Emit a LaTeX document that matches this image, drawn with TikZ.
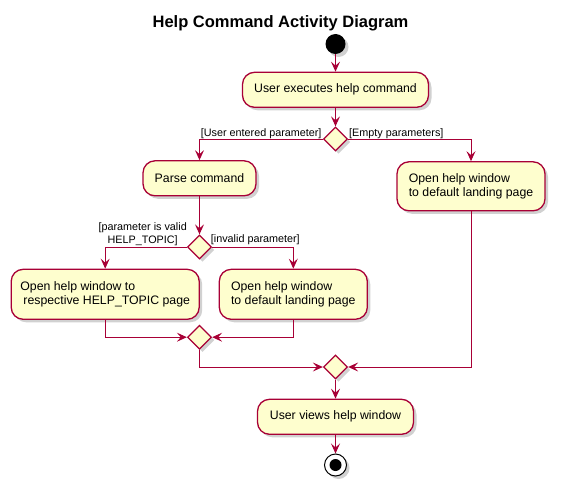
\documentclass[tikz,border=0pt]{standalone}
\usepackage{fontspec}
\setmainfont{Liberation Sans}
\usetikzlibrary{arrows.meta,shapes.geometric,shadows}
\definecolor{pborder}{HTML}{A80036}
\definecolor{pfill}{HTML}{FEFECE}
\begin{document}
\begin{tikzpicture}[x=1pt,y=-1pt,
  shadowed/.style={drop shadow={shadow xshift=3pt,shadow yshift=-3pt,opacity=0.3,fill=black!60}},
  act/.style={draw=pborder,fill=pfill,line width=1.3pt,rounded corners=12pt,inner sep=0pt,font=\fontsize{12.3}{14.7}\selectfont,align=left,shadowed},
  dec/.style={diamond,draw=pborder,fill=pfill,line width=1.3pt,minimum width=24pt,minimum height=24pt,inner sep=0pt,shadowed},
  flow/.style={draw=pborder,line width=1pt,-{Stealth[length=10pt,width=9pt,inset=4pt]}},
  lbl/.style={font=\fontsize{10.8}{13.3}\selectfont,inner sep=0pt},
]
\useasboundingbox (0,0) rectangle (561,492);
\node[font=\bfseries\fontsize{16.5}{20}\selectfont] (title) at (280.5,23.3) {Help Command Activity Diagram};
\node[circle,fill=black,minimum size=20pt,inner sep=0pt,shadowed] (start) at (335.5,44) {};
\node[act,minimum width=186pt,minimum height=35pt] (a1) at (335.5,89.8) {User executes help command};
\node[dec] (d1) at (335.5,139) {};
\node[act,minimum width=113pt,minimum height=35pt] (parse) at (199.5,178.3) {Parse command};
\node[act,minimum width=148pt,minimum height=49pt] (right) at (471,186.3) {Open help window\\to default landing page};
\node[dec] (d2) at (199.5,247) {};
\node[act,minimum width=188pt,minimum height=50pt] (b1) at (105.2,294.3) {Open help window to\\\hspace*{0.25em}respective HELP\_TOPIC page};
\node[act,minimum width=148pt,minimum height=50pt] (b2) at (293.3,294.3) {Open help window\\to default landing page};
\node[dec] (m1) at (199.5,337.2) {};
\node[dec] (m2) at (335.5,367) {};
\node[act,minimum width=156pt,minimum height=35pt] (a4) at (335.5,416.8) {User views help window};
\node[circle,draw=black,fill=white,line width=1pt,minimum size=22pt,inner sep=0pt,shadowed] (end) at (335.5,465) {};
\node[circle,fill=black,minimum size=12pt,inner sep=0pt] (endin) at (end.center) {};
\draw[flow] (start) -- (a1);
\draw[flow] (a1) -- (d1);
\draw[flow] (d1.west) -| (parse.north);
\draw[flow] (d1.east) -| (right.north);
\draw[flow] (parse) -- (d2);
\draw[flow] (d2.west) -| (b1.north);
\draw[flow] (d2.east) -| (b2.north);
\draw[flow] (b1.south) |- (m1.west);
\draw[flow] (b2.south) |- (m1.east);
\draw[flow] (m1.south) |- (m2.west);
\draw[flow] (right.south) |- (m2.east);
\draw[flow] (m2) -- (a4);
\draw[flow] (a4) -- (end);
\node[lbl,anchor=east] (l1) at (321.7,133.3) {[User entered parameter]};
\node[lbl,anchor=west] (l2) at (349,133.3) {[Empty parameters]};
\node[lbl,anchor=east,align=center] (l3) at (187,234.3) {[parameter is valid\\HELP\_TOPIC]};
\node[lbl,anchor=west] (l4) at (210.7,240) {[invalid parameter]};
\end{tikzpicture}
\end{document}
